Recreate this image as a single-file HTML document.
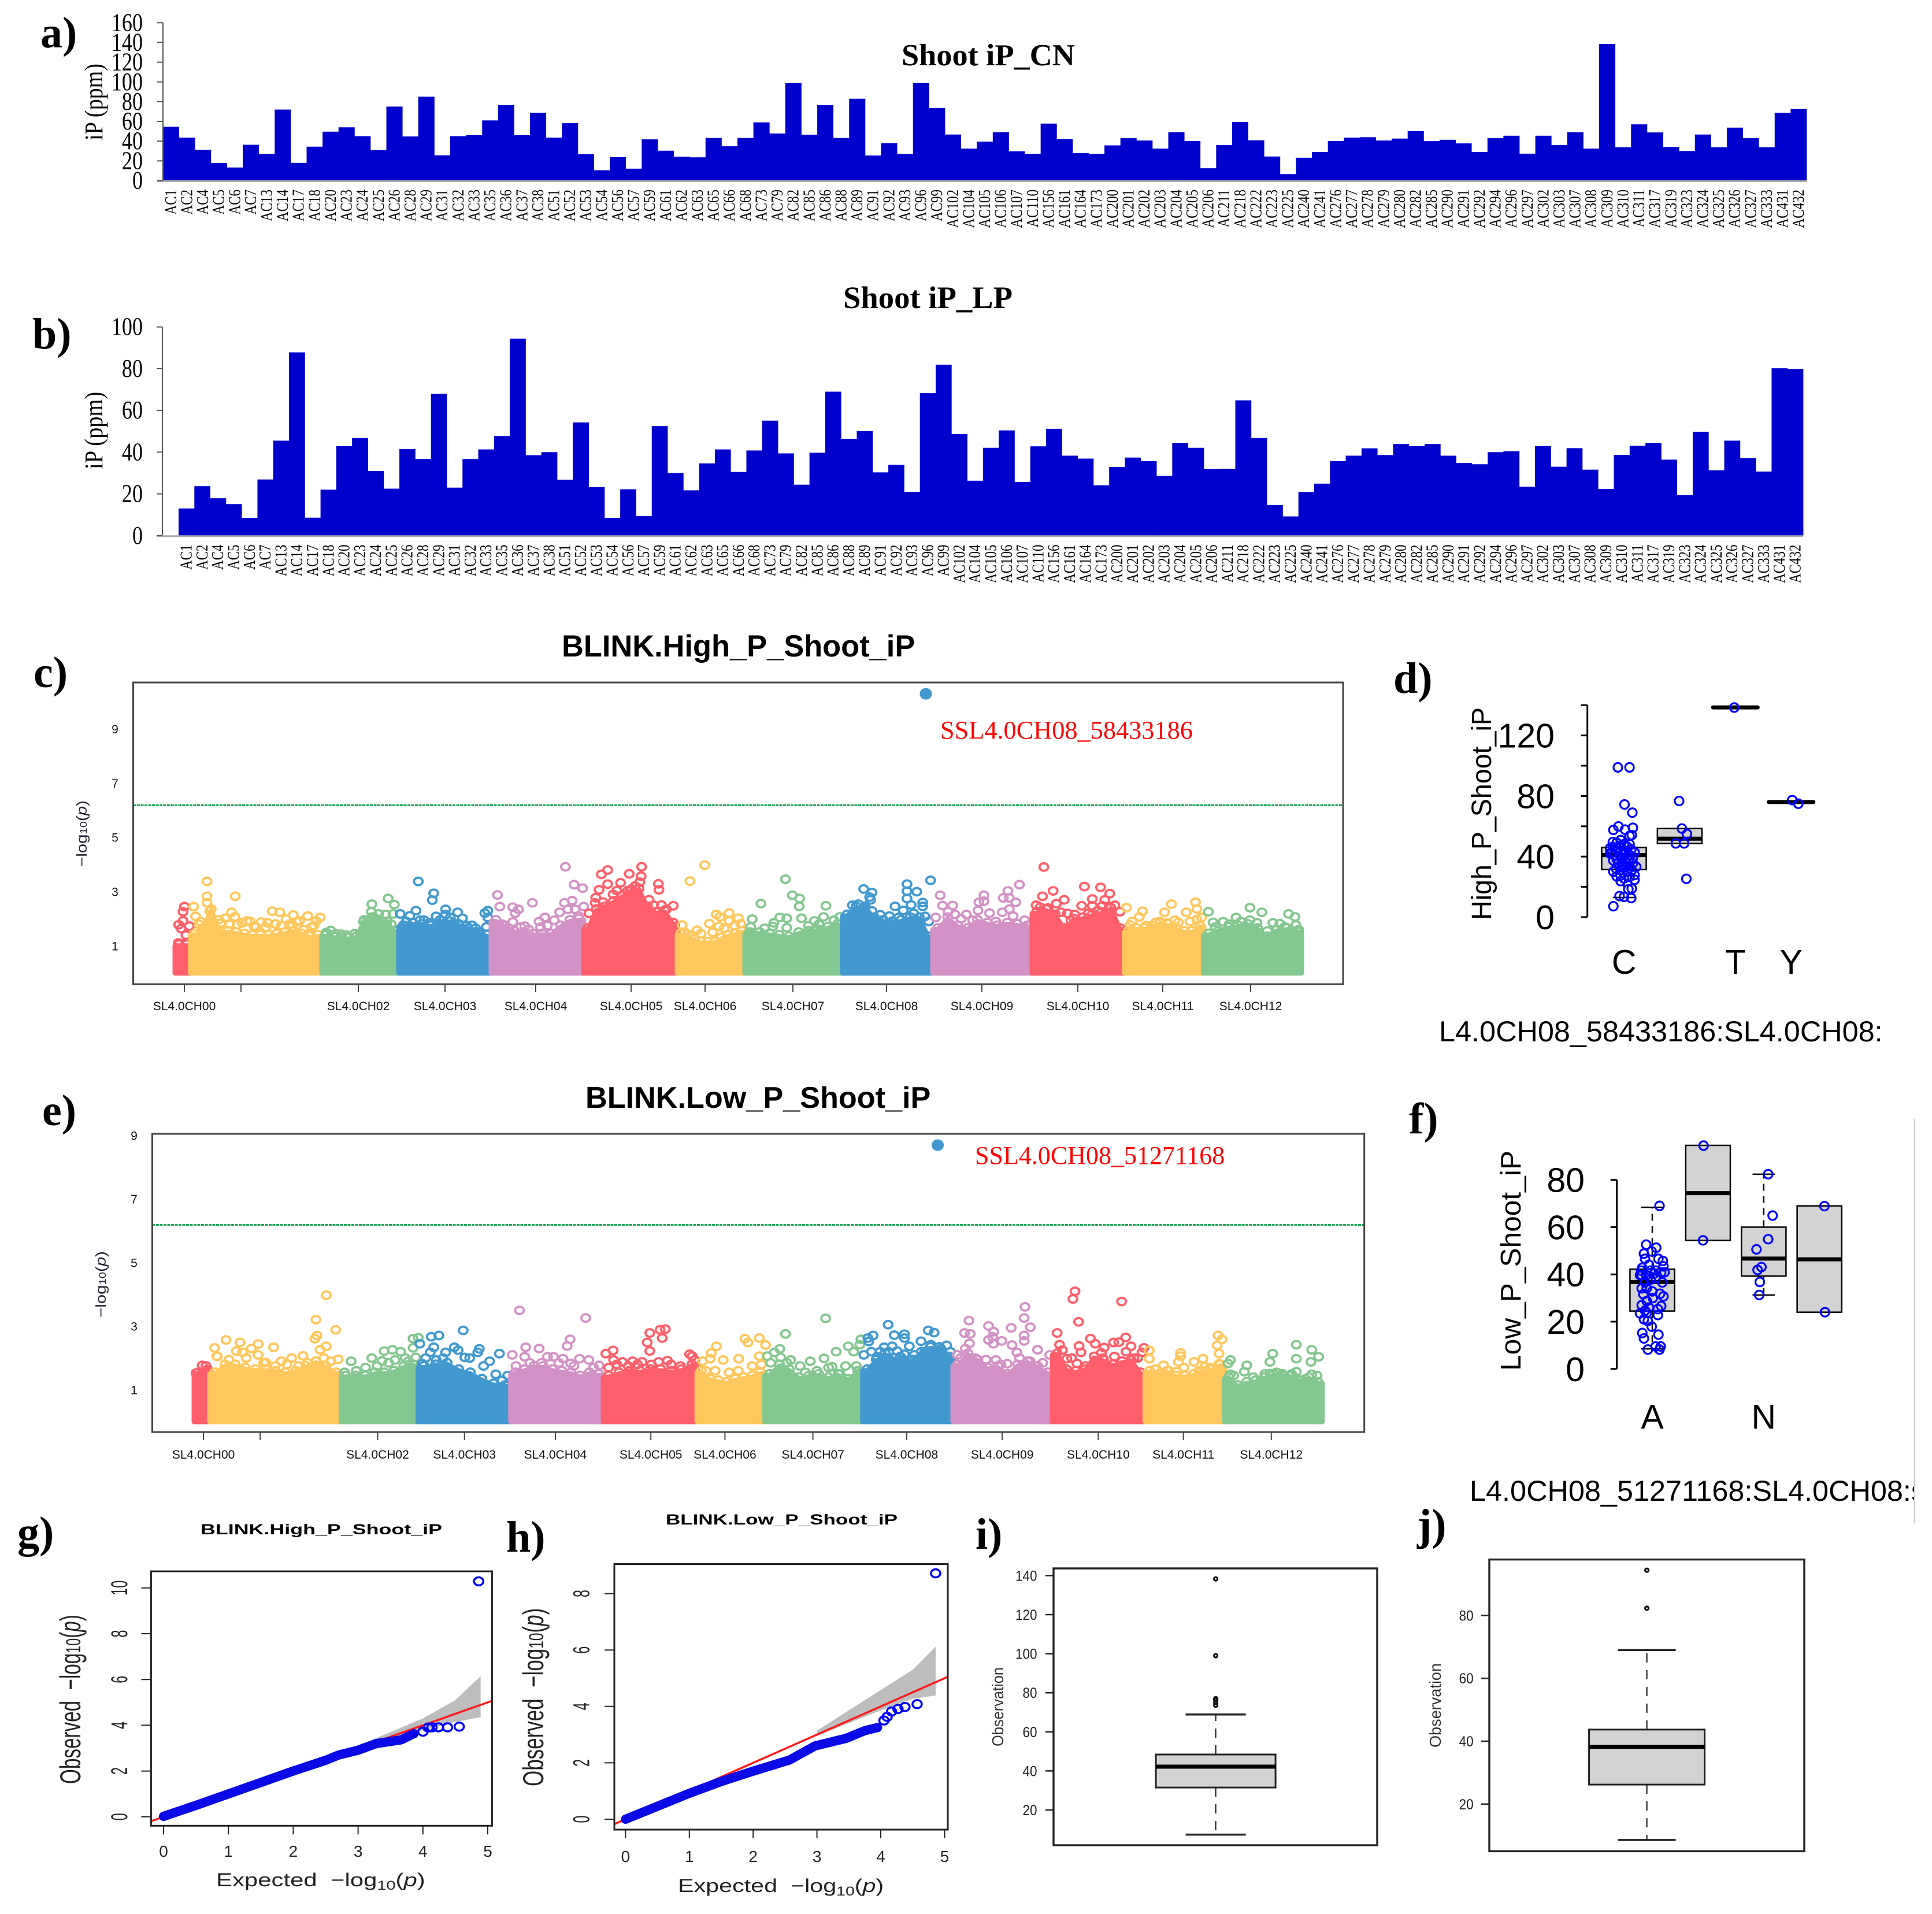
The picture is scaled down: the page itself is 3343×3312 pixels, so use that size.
<!DOCTYPE html>
<html lang="en">
<head>
<meta charset="utf-8">
<title>Shoot iP GWAS figure</title>
<style>
html,body{margin:0;padding:0;background:#fff;width:3343px;height:3312px;overflow:hidden}
svg{display:block}
.serif{font-family:"Liberation Serif",serif}
.sans{font-family:"Liberation Sans",sans-serif}
</style>
</head>
<body>
<svg id="fig" xmlns="http://www.w3.org/2000/svg" width="3343" height="3312" viewBox="0 0 3343 3312">
<defs>
<clipPath id="clip-g"><rect x="261" y="2719" width="590" height="440"/></clipPath>
<clipPath id="clip-h"><rect x="1063" y="2706" width="577" height="460"/></clipPath>
<clipPath id="clip-f"><rect x="2400" y="2500" width="912" height="140"/></clipPath>
</defs>

<g class="serif" font-weight="bold" font-size="76" fill="#000">
<text x="70" y="82">a)</text>
<text x="56" y="603">b)</text>
<text x="58" y="1189">c)</text>
<text x="2411" y="1199">d)</text>
<text x="73" y="1947">e)</text>
<text x="2438" y="1961">f)</text>
<text x="30" y="2677">g)</text>
<text x="876" y="2685">h)</text>
<text x="1688" y="2680">i)</text>
<text x="2452" y="2664">j)</text>
</g>

<text class="serif" font-weight="bold" x="1560" y="113" font-size="53.4" textLength="300" lengthAdjust="spacingAndGlyphs">Shoot iP_CN</text>
<text class="serif" font-weight="bold" x="1459" y="533" font-size="54" textLength="293" lengthAdjust="spacingAndGlyphs">Shoot iP_LP</text>
<text class="serif" font-size="44" textLength="133" lengthAdjust="spacingAndGlyphs" transform="translate(177,243) rotate(-90)">iP (ppm)</text>
<text class="serif" font-size="44" textLength="134" lengthAdjust="spacingAndGlyphs" transform="translate(177,812) rotate(-90)">iP (ppm)</text>
<g id="panel-a"></g>
<g id="panel-b"></g>

<text class="sans" font-weight="bold" x="972" y="1136" font-size="52.4">BLINK.High_P_Shoot_iP</text>
<g id="panel-c"></g>
<text class="sans" font-size="25" fill="#223" transform="translate(150,1500) rotate(-90) scale(1.18,1)">−log<tspan font-size="17">10</tspan>(<tspan font-style="italic">p</tspan>)</text>
<text class="serif" x="1627" y="1278" font-size="44.3" fill="#ff0000">SSL4.0CH08_58433186</text>

<text class="sans" font-weight="bold" x="1013" y="1917" font-size="52.2">BLINK.Low_P_Shoot_iP</text>
<g id="panel-e"></g>
<text class="sans" font-size="25" fill="#223" transform="translate(183,2280) rotate(-90) scale(1.18,1)">−log<tspan font-size="17">10</tspan>(<tspan font-style="italic">p</tspan>)</text>
<text class="serif" x="1687" y="2014" font-size="44" fill="#ff0000">SSL4.0CH08_51271168</text>

<g id="panel-d"></g>
<text class="sans" font-size="48" textLength="368" lengthAdjust="spacingAndGlyphs" transform="translate(2580,1592) rotate(-90)">High_P_Shoot_iP</text>
<text class="sans" x="2490" y="1802" font-size="50.4">L4.0CH08_58433186:SL4.0CH08:</text>

<g id="panel-f"></g>
<text class="sans" font-size="49" textLength="381" lengthAdjust="spacingAndGlyphs" transform="translate(2631,2372) rotate(-90)">Low_P_Shoot_iP</text>
<g clip-path="url(#clip-f)"><text class="sans" x="2543" y="2597" font-size="50.4">L4.0CH08_51271168:SL4.0CH08:s</text></g>
<line x1="3313" y1="1936" x2="3313" y2="2635" stroke="#cccccc" stroke-width="2"/>

<text class="sans" font-weight="bold" x="347" y="2655" font-size="25" textLength="418" lengthAdjust="spacingAndGlyphs">BLINK.High_P_Shoot_iP</text>
<g id="panel-g"></g>
<text class="sans" font-size="50" fill="#222" transform="translate(139,3087) rotate(-90) scale(.665,1)">Observed&#160;&#160;−log<tspan font-size="35">10</tspan>(<tspan font-style="italic">p</tspan>)</text>
<text class="sans" font-size="32" fill="#222" transform="translate(374,3264) scale(1.31,1)">Expected&#160;&#160;−log<tspan font-size="22" dy="6">10</tspan><tspan dy="-6">(</tspan><tspan font-style="italic">p</tspan>)</text>

<text class="sans" font-weight="bold" x="1152" y="2638" font-size="25" textLength="401" lengthAdjust="spacingAndGlyphs">BLINK.Low_P_Shoot_iP</text>
<g id="panel-h"></g>
<text class="sans" font-size="50" fill="#222" transform="translate(940,3091) rotate(-90) scale(.7,1)">Observed&#160;&#160;−log<tspan font-size="35">10</tspan>(<tspan font-style="italic">p</tspan>)</text>
<text class="sans" font-size="32" fill="#222" transform="translate(1173,3274) scale(1.29,1)">Expected&#160;&#160;−log<tspan font-size="22" dy="6">10</tspan><tspan dy="-6">(</tspan><tspan font-style="italic">p</tspan>)</text>

<g id="panel-i"></g>
<text class="sans" font-size="28" fill="#333" textLength="137" lengthAdjust="spacingAndGlyphs" transform="translate(1736,3022) rotate(-90)">Observation</text>
<g id="panel-j"></g>
<text class="sans" font-size="28" fill="#333" textLength="146" lengthAdjust="spacingAndGlyphs" transform="translate(2493,3024) rotate(-90)">Observation</text>
</svg>

<script>
/* ---------- bar chart data ---------- */
const accessions = ['AC1','AC2','AC4','AC5','AC6','AC7','AC13','AC14','AC17','AC18','AC20','AC23','AC24','AC25','AC26','AC28','AC29','AC31','AC32','AC33','AC35','AC36','AC37','AC38','AC51','AC52','AC53','AC54','AC56','AC57','AC59','AC61','AC62','AC63','AC65','AC66','AC68','AC73','AC79','AC82','AC85','AC86','AC88','AC89','AC91','AC92','AC93','AC96','AC99','AC102','AC104','AC105','AC106','AC107','AC110','AC156','AC161','AC164','AC173','AC200','AC201','AC202','AC203','AC204','AC205','AC206','AC211','AC218','AC222','AC223','AC225','AC240','AC241','AC276','AC277','AC278','AC279','AC280','AC282','AC285','AC290','AC291','AC292','AC294','AC296','AC297','AC302','AC303','AC307','AC308','AC309','AC310','AC311','AC317','AC319','AC323','AC324','AC325','AC326','AC327','AC333','AC431','AC432'];
const shootCN = [54.5,43.5,31.2,17.8,13.3,36.3,27.1,72,18,34.4,
49.6,54,45,30.9,75,44.7,85,25.6,45,46,
61,76.4,46,68.8,43.5,58.2,26.8,10.5,23.8,12.1,
41.8,30.3,24.2,23.6,43.2,34.8,43.2,59,47.7,98.8,
46.5,76.4,43.2,83,25.4,37.9,27.1,98.8,73.6,46.7,
32.4,39.5,49,29.7,27.1,57.8,42,27.9,27.1,35.7,
43,40.6,32.4,49,40.2,12.5,36,59.4,40.8,24.4,
6.6,23.2,29,40.2,43.5,44,40.6,42.6,50.2,40,
41.4,37.7,29,43,45.5,27.3,45.5,36,49,32.4,
138.5,33.8,57,48.8,34,30,46.7,33.8,53.7,43,33.8,68.8,72.5];
const shootLP = [13,23.7,17.9,15.1,8.5,26.9,45.5,87.8,8.6,22,
42.9,46.8,31,22.5,41.5,36.7,67.9,23,36.7,41.3,
47.7,94.4,38.5,40,26.8,54.2,23.2,8.5,22.2,9.4,
52.5,30,21.7,34.6,41.3,30.5,40.8,55.1,39.4,24.4,
39.7,69,46.3,50.1,30.3,33.9,21,68.3,81.9,48.7,
26.3,42.1,50.4,25.7,42.8,51.2,38.3,36.9,24.1,32.9,
37.4,35.7,28.6,44.3,42.1,31.9,32,64.8,46.8,14.6,
9.2,20.9,24.9,35.7,38.3,41.8,38.6,43.9,42.9,43.9,
38.3,34.8,34.2,40,40.4,23.4,42.9,33,41.9,31.6,
22.4,38.7,43,44.3,36.4,19.4,49.7,31.3,45.5,37.1,30.7,80.2,79.8];
const aTicks = [0,20,40,60,80,100,120,140,160];
const bTicks = [0,20,40,60,80,100];

/* ---------- manhattan data: genome position (Mb), -log10(p) ---------- */
const chrLabels = ['SL4.0CH00','','SL4.0CH02','SL4.0CH03','SL4.0CH04','SL4.0CH05','SL4.0CH06','SL4.0CH07','SL4.0CH08','SL4.0CH09','SL4.0CH10','SL4.0CH11','SL4.0CH12'];
const chrLengths = [13.5,113.5,66.5,80,80,81,58.5,84.5,78,86,80,68.5,84.5];
const chrTicks = [8,57,158.5,233.5,312,394.5,458.5,534.5,615.5,698,781,854.5,930.5];
const manhattanTicks = [1,3,5,7,9];
const significanceLine = 6.19;

const cEnvelope = [
[1,1],
[1.4,1.6,2.3,1.5,1.5,1.45,1.4,1.35,1.35,1.35,1.4,1.45,1.5,1.4,1.3,1.35],
[1.35,1.3,1.25,1.25,1.3,1.9,2,1.9,1.85,1.5],
[1.7,1.8,1.75,1.7,1.9,1.85,1.75,1.6,1.45,1.35],
[1.9,1.7,1.5,1.45,1.4,1.4,1.4,1.7,1.9,1.95],
[1.6,2.3,2.4,2.6,2.8,3,3.05,2.4,2.2,2.25,1.8],
[1.4,1.35,1.2,1.1,1.1,1.1,1.25,1.35,1.4,1.5],
[1.45,1.45,1.4,1.35,1.3,1.45,1.5,1.55,1.65,1.75],
[2.1,2.4,2.4,2,1.9,1.85,1.9,2,2,1.3],
[1.6,2,1.7,1.6,1.9,1.8,1.7,1.8,1.75,1.7],
[2.2,2.3,2.1,1.6,1.95,2,2.1,2.2,2.35,1.6],
[1.5,1.6,1.6,1.7,1.8,1.75,1.6,1.5,1.5,1.7],
[1.4,1.5,1.65,1.7,1.75,1.6,1.3,1.55,1.6,1.5]
];
const cHits = [
[[8.1,2.45],[6.9,2.26],[3.1,1.78],[6.9,1.92],[12.3,1.73],[5.2,1.64],[9.4,1.4],[2.7,1.11],[9.4,1.11]],
[[27.6,3.38],[27.6,2.83],[27.6,2.59],[52,2.83],[16,2.45],[17.7,2.09],[20.6,1.8],[30,2.29],[48.8,2.24],[84,2.28],[90.6,2.24],[102.2,2.14],[114.7,2.1],[125.5,2.05],[37.6,1.97],[43.4,2.02],[51.7,2.07],[62,1.92],[74.5,1.88],[86.9,1.81],[96,1.99],[107.6,1.92],[122,1.92],[118,1.69],[53.7,1.78],[68.2,1.73],[78.6,1.69],[101.4,1.73],[115.9,1.45],[22,1.9],[33,1.75],[40,1.85],[47,1.8],[58,1.85],[65,1.9],[70,1.7],[80,1.85],[92,1.75],[99,1.8],[105,1.9],[111,1.6],[120,1.75]],
[[184.3,2.75],[189.7,2.52],[170.2,2.54],[188.5,2.18],[182.3,2.16],[176,2.18],[169.8,2.26],[134.6,1.57],[143.7,1.43],[155.3,1.45],[131,1.5],[139,1.45],[148,1.4],[163,1.9],[172,2.05],[180,1.9],[187,1.8]],
[[210.4,3.38],[223.7,2.94],[222.5,2.69],[194.7,2.18],[208.4,2.3],[203,2.11],[215.4,1.95],[234,2.35],[244.4,2.24],[234,2.16],[248.6,2.02],[270.5,2.3],[268,2.21],[270.5,2.05],[225.8,2.09],[256.9,1.76],[269.3,1.7],[198.8,1.73],[200,1.9],[212,1.95],[220,1.85],[229,1.95],[238,2.05],[241,1.85],[252,1.75],[260,1.65],[264,1.5]],
[[337.7,3.92],[345.2,3.26],[352.6,3.13],[278.9,2.88],[309.1,2.59],[280.9,2.45],[292.1,2.43],[297.1,2.35],[294.2,2.21],[319.9,2.05],[314.9,1.9],[336.9,2.59],[343.5,2.67],[353.5,2.45],[332.7,2.24],[339.8,2.35],[346,2.35],[292.1,1.88],[302.5,1.73],[316.2,1.69],[283,1.8],[289,1.65],[299,1.7],[306,1.6],[322,1.75],[328,1.95],[349,2.1]],
[[374.2,3.8],[368.8,3.64],[403.6,3.92],[392.9,3.66],[403.2,3.57],[402,3.35],[385.4,3.33],[374.2,3.28],[418.1,3.29],[418.6,3.07],[366.8,3.07],[397.9,3.21],[382.1,3.04],[391.6,3.04],[363.9,2.78],[363.4,2.59],[420.7,2.51],[431,2.48],[370.1,2.62],[358,2.2],[379,2.9],[395,3.1],[410,2.7],[414,2.5],[425,2.35]],
[[458.2,3.98],[445.4,3.39],[462.2,1.82],[468.2,2.16],[471.3,2.07],[479.3,2.21],[487.3,2.02],[470.5,1.72],[438.6,1.77],[451.4,1.58],[489.3,1.82],[479.3,1.92],[441,1.5],[447,1.4],[455,1.45],[465,1.5],[475,1.65],[484,1.75]],
[[528,3.46],[534,2.87],[540.3,2.75],[540,2.46],[506.8,2.56],[563,2.48],[499.3,1.99],[523.2,2.05],[529.2,2.02],[541.9,2.02],[561,2.07],[575,2.07],[517.2,1.72],[529.2,1.67],[553.1,1.92],[498,1.7],[510,1.65],[518,1.85],[548,1.75],[557,1.8],[570,1.95]],
[[653.6,3.42],[633.2,3.28],[595.7,3.1],[602.9,2.97],[600.9,2.8],[601.7,2.7],[633.2,3.02],[641.6,3],[633.2,2.75],[646.8,2.6],[646.8,2.46],[622.9,2.46],[636.8,2.51],[602.9,2.29],[630,2.31],[648.8,2.09],[591,2.54],[586,2.5],[596,2.4],[610,2.15],[618,2.1],[626,2.05],[639,2.2],[652,1.9]],
[[730.5,3.26],[661.9,2.87],[699.8,2.87],[720.5,3.03],[716.5,2.77],[721.7,2.77],[727.3,2.61],[695.4,2.61],[663.9,2.49],[672.7,2.49],[699.8,2.65],[694.6,2.31],[684.6,2.16],[704.6,2.21],[721.7,2.36],[715.7,2.24],[674.7,2.16],[668.7,2.26],[658,2.05],[680,2],[690,1.95],[710,1.9],[725,2.1],[735,1.95]],
[[751.6,3.91],[759.6,3.03],[750.4,2.83],[769.2,2.7],[762.4,2.56],[748.4,2.43],[786.7,3.19],[800.7,3.16],[808.6,2.93],[793.5,2.73],[804.3,2.7],[784.3,2.48],[793.5,2.48],[802.3,2.48],[808.2,2.46],[766.4,2.24],[778.3,2.16],[817.4,2.26],[758.4,2.18],[745,2.5],[755,2.4],[772,2.2],[775,1.95],[790,2.2],[798,2.3],[813,2.5]],
[[823,2.41],[837,2.28],[862,2.54],[856,2.24],[874.8,2.24],[882.8,2.61],[884,2.36],[884,1.97],[848.5,1.87],[858,1.85],[868,1.87],[826.2,1.77],[834.2,2.07],[828,1.9],[840,1.75],[852,1.9],[865,1.95],[878,1.9],[888,2.05]],
[[894,2.26],[929.9,2.41],[940.2,2.24],[963.3,2.18],[968.9,2.07],[917.9,2.05],[898,1.87],[906.8,1.89],[929.9,1.95],[949.8,1.85],[969.7,1.77],[955.8,1.82],[900,1.7],[912,1.8],[922,1.9],[936,1.85],[945,1.55],[960,1.7],[972,1.6]]
];
const cTopSnp = [649.5,10.3];

const eEnvelope = [
[1.5,1.7],
[1.5,1.75,1.75,1.65,1.6,1.6,1.55,1.5,1.55,1.7,1.85,1.7,1.5],
[1.4,1.4,1.4,1.5,1.5,1.55,1.7,1.75],
[1.7,1.75,1.8,1.6,1.5,1.3,1.15,1.1],
[1.5,1.6,1.7,1.7,1.6,1.55,1.5,1.4,1.5,1.45],
[1.4,1.5,1.55,1.55,1.6,1.6,1.55,1.6,1.75],
[1.55,1.3,1.25,1.2,1.3,1.35,1.4,1.5],
[1.45,1.75,1.6,1.35,1.4,1.45,1.35,1.45,1.3,1.55],
[1.6,1.9,2.1,1.95,1.9,1.9,2.15,2.3,2.3,2],
[1.75,2.1,1.9,1.65,1.7,1.45,1.75,1.85,1.7,1.5],
[2.1,1.6,1.55,1.6,2,1.9,1.75,1.85,1.9,1.5],
[1.55,1.45,1.55,1.4,1.4,1.45,1.55,1.6,1.75],
[1.35,1.1,1.2,1.25,1.35,1.45,1.45,1.4,1.25,1.35,1.2]
];
const eHits = [
[[7,1.77],[1.6,1.53],[11.9,1.61]],
[[114.1,3.98],[105.2,3.21],[122.2,2.89],[106.1,2.71],[104.3,2.61],[114.1,2.37],[108.8,2.26],[27.5,2.57],[39.6,2.49],[55.2,2.44],[68.6,2.34],[17.7,2.32],[49.4,2.3],[36.4,2.22],[41.8,2.18],[19.5,2.06],[55.2,2.1],[94,2.07],[84.2,2],[124.4,1.96],[75.3,1.9],[61.9,1.86],[20,2.05],[30,1.95],[45,2],[60,1.85],[70,1.75],[80,1.8],[90,1.75],[98,1.85],[112,2],[118,1.9]],
[[189.1,2.61],[193.6,2.64],[164.1,2.22],[171.3,2.26],[178.4,2.2],[189.1,2.32],[153.4,2],[135.6,1.9],[162.3,1.91],[173.5,1.94],[191.4,2.02],[182.4,2],[130,1.55],[140,1.6],[148,1.7],[158,1.75],[168,1.85],[185,1.9]],
[[232.4,2.87],[204.8,2.67],[211.4,2.71],[194.9,2.45],[224.8,2.34],[246.3,2.29],[207,2.34],[263.7,2.14],[203.9,2.18],[217.2,2.18],[245,2.18],[233.8,2.02],[255.2,1.9],[197.1,1.82],[209.2,1.94],[270.8,1.45],[260.5,1.49],[200,2],[215,2],[228,2.25],[238,2],[250,1.75],[266,1.3],[275,1.25]],
[[281,3.5],[338.2,3.26],[324.8,2.59],[322.2,2.38],[286.4,2.34],[298,2.3],[274.8,2.1],[285.5,2.04],[305.2,2.04],[310.5,2.04],[332.9,1.98],[340.9,1.94],[318.6,1.98],[325.3,1.83],[349.8,1.77],[278,1.75],[290,1.85],[300,1.85],[315,1.85],[328,1.75],[345,1.7]],
[[407,2.91],[402.5,2.89],[393.6,2.79],[404.3,2.63],[391.4,2.49],[393.6,2.22],[361.9,2.24],[355.6,2.14],[428,2.12],[430.2,2.06],[362.3,1.94],[369.9,1.88],[378.8,1.9],[386.9,1.88],[401.2,1.88],[408.8,1.92],[432.4,1.94],[358,1.7],[365,1.8],[375,1.75],[383,1.8],[395,1.8],[412,1.8],[420,1.75]],
[[475.7,2.61],[488.2,2.63],[478.4,2.49],[493.6,2.41],[451.2,2.37],[446.7,2.16],[470.4,1.98],[457,1.94],[488.2,2.06],[445.8,1.98],[439.1,1.9],[442,1.6],[450,1.6],[462,1.55],[470,1.6],[482,1.75],[490,1.8]],
[[545.5,3.25],[510.8,2.76],[565.1,2.37],[575,2.42],[576,2.59],[554.6,2.2],[569.7,2.2],[544.1,1.99],[532.2,1.9],[515.3,1.94],[501.3,2.18],[505.9,2.29],[495,2.06],[506.6,2.02],[551.1,1.73],[562.7,1.75],[523.4,1.75],[498,1.85],[512,1.85],[528,1.55],[538,1.6],[548,1.7],[558,1.5],[572,1.75]],
[[599.5,3.05],[604.8,2.72],[613.6,2.75],[613.6,2.63],[586.5,2.71],[582,2.63],[582.7,2.52],[634.2,2.87],[639.2,2.8],[627.9,2.53],[603,2.37],[596,2.34],[617.8,2.37],[636.4,2.42],[592.5,2.2],[607.2,2.22],[613.6,2.12],[653.2,2.2],[645.1,2.29],[578.5,2.1],[585,2.2],[590,2.05],[600,2.2],[610,2.05],[622,2.1],[631,2.2],[650,2.4]],
[[669.3,3.18],[717.7,3.61],[717,3.26],[686.2,3.01],[705.8,2.95],[722.3,2.97],[665.5,2.79],[670.4,2.76],[690.7,2.83],[689.7,2.67],[717,2.71],[686.2,2.57],[697.7,2.54],[690.4,2.45],[717,2.54],[706.5,2.41],[659.2,2.1],[669.7,2.46],[666.2,2.3],[728.6,2.26],[710.7,2.18],[739.1,2.1],[692.5,1.94],[702.3,1.82],[662,2],[675,2],[684,1.95],[697,1.8],[713,2],[722,1.9],[733,1.85]],
[[760.9,4.1],[759.1,3.86],[801.2,3.78],[764,3.14],[745.5,2.79],[804.7,2.65],[774.2,2.61],[778.4,2.45],[794.2,2.49],[798.8,2.5],[747.6,2.42],[764.4,2.38],[766.1,2.18],[786.1,2.33],[809.3,2.37],[820.5,2.32],[753.9,1.98],[762.6,1.83],[783.7,2.16],[818.8,2.18],[811.8,2],[750,2.25],[758,2],[770,1.75],[785,2],[795,2.05],[805,2.2],[815,2]],
[[884.4,2.71],[887.9,2.59],[883.7,2.4],[825.1,2.24],[825.1,1.98],[852.1,2.16],[852.1,2.06],[850.3,1.88],[863.7,1.88],[871.4,1.98],[837.4,1.77],[885.4,2.14],[848.6,1.57],[873.1,1.73],[885.4,1.82],[830,1.65],[842,1.6],[855,1.7],[868,1.6],[878,1.7]],
[[952.1,2.42],[965.4,2.26],[971.4,2.04],[931.7,2.14],[929.3,1.88],[952.1,1.98],[964.7,1.88],[895.2,1.94],[893.1,1.83],[909.3,1.77],[907.2,1.57],[952.1,1.57],[895.2,1.49],[929.3,1.51],[941.6,1.45],[965.4,1.49],[898,1.45],[915,1.4],[925,1.5],[935,1.55],[948,1.5],[960,1.35],[970,1.45]]
];
const eTopSnp = [642.3,8.7];

/* ---------- genotype boxplots ---------- */
const dLabels = ['C','','T','Y'];
const dYTicks = [0,20,40,60,80,100,120,140];
const dYLabels = ['0','','40','','80','','120',''];
const dQ1 = [31.4,48.6,138.5,76];
const dQ3 = [46,58.5,138.5,76];
const dMed = [41,51.8,138.5,76];
const dLow = [13,48.6,138.5,76];
const dHigh = [46,58.5,138.5,76];
const dPoints = [
[[-.11,98.9],[.1,98.9],[.01,74.4],[.15,69],[-.1,59.9],[.16,59],[-.19,57.6],[.02,57.8],[.14,54.2],[.1,53.6],[-.06,50.9],[-.2,49.6],[0,48.2],[-.2,46.4],[.06,46.4],[-.13,45.5],[.13,44.6],[-.22,42.8],[-.06,43.7],[.19,42.8],[.03,41.9],[-.16,41],[.1,41],[-.25,41.9],[-.03,39.2],[-.19,37.4],[.16,39.2],[-.1,35.6],[.03,36.5],[.1,33.8],[.22,33.2],[-.14,31.9],[-.03,32.9],[.14,31],[-.19,30.1],[.05,30.1],[-.06,27.4],[.19,27.8],[-.13,26.9],[.1,26.5],[0,25.6],[-.06,23.8],[.19,24.7],[.08,18.4],[.14,18.8],[-.08,13.9],[0,13.4],[.13,12.6],[-.19,7.2],[0,43.7],[-.06,47.3],[.1,48.2],[-.13,38.3],[0,34.7],[.08,37.4],[-.25,45.5],[-.06,31],[.03,32.9],[.16,35.6],[-.13,49.1]],
[[-.01,76.7],[.04,58.5],[.13,54.9],[-.07,48.7],[.08,48.7],[.12,25.3]],
[[-.02,138.4]],
[[.02,77.3],[.13,74.9]]
];
const fLabels = ['A','','N',''];
const fYTicks = [0,20,40,60,80];
const fYLabels = ['0','20','40','60','80'];
const fQ1 = [24.5,54.4,39.3,24];
const fQ3 = [42.2,94.6,60,69];
const fMed = [36.8,74.4,46.7,46.4];
const fLow = [8.5,54.4,31.3,24];
const fHigh = [68.4,94.6,82.4,69];
const fPoints = [
[[.13,69],[-.11,52.6],[.07,51.3],[-.01,49.7],[-.15,48.8],[-.13,46.6],[.11,46.6],[.19,45.7],[.2,43.4],[-.06,44.1],[-.18,42.8],[-.2,41.6],[.16,40.9],[-.03,41.6],[-.19,39.7],[-.11,39.7],[.06,38.5],[-.03,37.8],[.18,36.6],[-.19,34.1],[-.1,34.1],[0,32.8],[-.16,31.6],[.14,31.8],[.2,30.7],[-.1,28.7],[.01,30],[-.19,27],[.16,26.6],[-.06,26],[-.22,23.5],[-.1,23.7],[.1,22.8],[-.15,21],[-.08,20.3],[-.01,17.9],[-.18,15.2],[.11,14.5],[-.15,12.9],[-.08,8.2],[.06,9.5],[.15,9.5],[.13,8.2],[.1,25.3],[-.13,24.7],[.03,40.3],[-.13,36.6],[-.22,39.7],[.22,40.9],[.06,41.6]],
[[-.08,94.5],[-.09,54.4]],
[[.08,82.4],[.16,64.9],[.08,54.9],[-.13,50.6],[-.04,43.1],[-.11,41.9],[-.07,36.8],[-.08,31.3]],
[[.09,68.9],[.1,24]]
];

/* ---------- QQ plots ---------- */
const qqXTicks = [0,1,2,3,4,5];
const gYTicks = [0,2,4,6,8,10];
const hYTicks = [0,2,4,6,8];
const gCurveExpected = [0,.5,1,1.5,2,2.5,2.7,3,3.28,3.66,3.86];
const gCurveObserved = [.02,.5,1,1.5,2,2.47,2.7,2.91,3.2,3.36,3.63];
const gTailExpected = [4,4.08,4.14,4.24,4.38,4.56,4.86];
const gTailObserved = [3.72,3.9,3.91,3.91,3.91,3.94,10.29];
const gBandExpected = [3.2,3.5,4,4.5,4.89];
const gBandUpper = [3.35,3.7,4.3,5.1,6.15];
const gBandLower = [3.15,3.4,3.78,4.15,4.35];
const hCurveExpected = [0,1,1.49,1.98,2.57,2.97,3.46,3.75,3.95];
const hCurveObserved = [0,.92,1.33,1.69,2.1,2.6,2.87,3.14,3.25];
const hTailExpected = [4.05,4.1,4.17,4.27,4.38,4.57,4.86];
const hTailObserved = [3.5,3.63,3.82,3.91,3.98,4.08,8.72];
const hBandExpected = [3,4,4.5,4.86];
const hBandUpper = [3.14,4.58,5.3,6.12];
const hBandLower = [2.95,3.86,4.27,4.39];

/* ---------- phenotype boxplots ---------- */
const iYTicks = [20,40,60,80,100,120,140];
const iBox = [31.5,42.2,48.4];
const iWhiskers = [7.4,68.9];
const iOutliers = [138.3,99,73.6,75,76.4,77];
const jYTicks = [20,40,60,80];
const jBox = [26.2,38.2,43.7];
const jWhiskers = [8.6,69];
const jOutliers = [94.4,82.3];

/* ---------- helpers ---------- */
const SVGNS = 'http://www.w3.org/2000/svg';
const SANS = '"Liberation Sans",sans-serif';
const SERIF = '"Liberation Serif",serif';
const $ = id => document.getElementById(id);
function shape(parent, tag, attrs) {
  const el = document.createElementNS(SVGNS, tag);
  for (const k in attrs) el.setAttribute(k, attrs[k]);
  parent.appendChild(el);
  return el;
}
function label(parent, str, family, size, transform, anchor, fill) {
  const el = shape(parent, 'text', {'font-family': family, 'font-size': size, transform: transform, 'text-anchor': anchor, fill: fill || '#000'});
  el.textContent = str;
  return el;
}
const linear = (d0, r0, d1, r1) => v => r0 + (v - d0) * (r1 - r0) / (d1 - d0);

/* ---------- bar charts ---------- */
function drawBars(id, values, ticks, left, right, y0Px, maxVal, maxPx, axisX, labelTop) {
  const g = $(id);
  const y = linear(0, y0Px, maxVal, maxPx);
  const w = (right - left) / values.length;
  values.forEach((v, i) => {
    const el = shape(g, 'rect', {x: left + i * w, y: y(v), width: w + .4, height: y0Px - y(v), fill: '#0000CD'});
    
    
    const t = label(g, accessions[i], SERIF, 28, 'translate(' + (left + (i + .5) * w + 9) + ',' + labelTop + ') rotate(-90) scale(.82,1)', 'end');
    
    
  });
  const axis = shape(g, 'line', {x1: axisX, x2: axisX, y1: y(ticks[ticks.length - 1]), y2: y0Px, stroke: '#555', 'stroke-width': 2});
  
  
  const base = shape(g, 'line', {x1: axisX - 10, x2: right, y1: y0Px + 1, y2: y0Px + 1, stroke: '#aaa', 'stroke-width': 3});
  
  
  ticks.forEach(v => {
    const tk = shape(g, 'line', {x1: axisX - 10, x2: axisX, y1: y(v), y2: y(v), stroke: '#555', 'stroke-width': 2});
    
    
    const t = label(g, String(v), SERIF, 44, 'translate(247,' + (y(v) + 14) + ') scale(.82,1)', 'end');
    
    
  });
}
drawBars('panel-a', shootCN, aTicks, 282, 3126, 312.5, 160, 39.3, 282, 328);
drawBars('panel-b', shootLP, bTicks, 309, 3120, 926.8, 100, 565.7, 281, 942.5);

/* ---------- manhattan plots ---------- */
const palette = ['#FF5F6B','#FFC75C','#84C790','#4299D0','#D392C5'];
function drawManhattan(id, envelope, hits, top, cfg) {
  const g = $(id);
  const x = p => cfg.x0 + cfg.k * p;
  const y = linear(0, cfg.y0, 1, cfg.y1);
  let start = 0;
  chrLengths.forEach((len, c) => {
    const col = palette[c % 5];
    const vals = envelope[c];
    const pts = [x(start) + ',' + y(0), x(start) + ',' + y(vals[0])];
    vals.forEach((v, j) => pts.push(x(start + (j + .5) / vals.length * len) + ',' + y(v)));
    pts.push(x(start + len) + ',' + y(vals[vals.length - 1]), x(start + len) + ',' + y(0));
    const area = shape(g, 'polygon', {points: pts.join(' '), fill: col, stroke: col, 'stroke-width': 9, 'stroke-linejoin': 'round'});
    
    
    vals.forEach((v, j) => {
      const r = shape(g, 'ellipse', {cx: x(start + (j + .5) / vals.length * len), cy: y(v) - 3, rx: 7.5, ry: 6.5, fill: 'none', stroke: col, 'stroke-width': 3.8});
      
      
    });
    hits[c].forEach(h => {
      const r = shape(g, 'ellipse', {cx: x(h[0]), cy: y(h[1]), rx: 7.5, ry: 6.5, fill: 'none', stroke: col, 'stroke-width': 3.8});
      
      
    });
    start += len;
  });
  const peak = shape(g, 'ellipse', {cx: x(top[0]), cy: y(top[1]), rx: 10.5, ry: 10, fill: '#4299D0'});
  
  
  const thr = shape(g, 'line', {x1: cfg.left, x2: cfg.right, y1: y(significanceLine), y2: y(significanceLine), stroke: '#1FA55A', 'stroke-width': 3.2, 'stroke-dasharray': '5 1.5'});
  
  
  const frame = shape(g, 'rect', {x: cfg.left, y: cfg.top, width: cfg.right - cfg.left, height: cfg.bottom - cfg.top, fill: 'none', stroke: '#444', 'stroke-width': 3});
  
  
  chrTicks.forEach((p, c) => {
    const tk = shape(g, 'line', {x1: x(p), x2: x(p), y1: cfg.bottom, y2: cfg.bottom + 14, stroke: '#444', 'stroke-width': 2});
    
    
    if (chrLabels[c]) {
      const t = label(g, chrLabels[c], SANS, 21, 'translate(' + x(p) + ',' + cfg.labelY + ')', 'middle', '#111');
      
      
    }
  });
  manhattanTicks.forEach(v => {
    const t = label(g, String(v), SANS, 21, 'translate(' + cfg.tickX + ',' + (y(v) + 7.5) + ')', 'middle', '#111');
    
    
  });
}
drawManhattan('panel-c', cEnvelope, cHits, cTopSnp, {x0: 303, k: 2, y0: 1683.7, y1: 1636.8, left: 230.5, right: 2324, top: 1181, bottom: 1703, labelY: 1748, tickX: 199});
drawManhattan('panel-e', eEnvelope, eHits, eTopSnp, {x0: 336, k: 2.003, y0: 2460, y1: 2405, left: 263.5, right: 2360.7, top: 1962, bottom: 2478, labelY: 2524, tickX: 232});

/* ---------- genotype boxplots ---------- */
function drawGenotype(id, cats, yTicks, yLabels, q1, q3, med, low, high, points, cfg) {
  const g = $(id);
  const x = i => cfg.x0 + cfg.step * i;
  const y = linear(0, cfg.y0, 100, cfg.y0 - 100 * cfg.k);
  const hw = cfg.step * .4, cw = cfg.step * .2;
  med.forEach((m, i) => {
    const hasBox = q3[i] > q1[i];
    if (high[i] > q3[i]) {
      const w = shape(g, 'line', {x1: x(i), x2: x(i), y1: y(q3[i]), y2: y(high[i]), stroke: '#000', 'stroke-width': 2.5, 'stroke-dasharray': '12 9'});
      
      
      const c = shape(g, 'line', {x1: x(i) - cw, x2: x(i) + cw, y1: y(high[i]), y2: y(high[i]), stroke: '#000', 'stroke-width': 2.5});
      
      
    }
    if (low[i] < q1[i]) {
      const w = shape(g, 'line', {x1: x(i), x2: x(i), y1: y(q1[i]), y2: y(low[i]), stroke: '#000', 'stroke-width': 2.5, 'stroke-dasharray': '12 9'});
      
      
      const c = shape(g, 'line', {x1: x(i) - cw, x2: x(i) + cw, y1: y(low[i]), y2: y(low[i]), stroke: '#000', 'stroke-width': 2.5});
      
      
    }
    if (hasBox) {
      const b = shape(g, 'rect', {x: x(i) - hw, y: y(q3[i]), width: hw * 2, height: y(q1[i]) - y(q3[i]), fill: '#d3d3d3', stroke: '#000', 'stroke-width': 2.5});
      
      
    }
    const ml = shape(g, 'line', {x1: x(i) - hw, x2: x(i) + hw, y1: y(m), y2: y(m), stroke: '#000', 'stroke-width': 7, 'stroke-linecap': hasBox ? 'butt' : 'round'});
    
    
  });
  points.forEach((list, i) => list.forEach(p => {
    const r = shape(g, 'circle', {cx: x(i + p[0]), cy: y(p[1]), r: 7.5, fill: 'none', stroke: '#0000ff', 'stroke-width': 3.2});
    
    
  }));
  const axis = shape(g, 'line', {x1: cfg.axisX, x2: cfg.axisX, y1: y(yTicks[0]), y2: y(yTicks[yTicks.length - 1]), stroke: '#000', 'stroke-width': 3});
  
  
  yTicks.forEach((v, i) => {
    const tk = shape(g, 'line', {x1: cfg.axisX - 11, x2: cfg.axisX, y1: y(v), y2: y(v), stroke: '#000', 'stroke-width': 3});
    
    
    if (yLabels[i]) {
      const t = label(g, yLabels[i], SANS, 59, 'translate(' + cfg.labelX + ',' + (y(v) + 21) + ')', 'end');
      
      
    }
  });
  cats.forEach((c, i) => {
    if (c) {
      const t = label(g, c, SANS, 59, 'translate(' + x(i) + ',' + cfg.catY + ')', 'middle');
      
      
    }
  });
}
drawGenotype('panel-d', dLabels, dYTicks, dYLabels, dQ1, dQ3, dMed, dLow, dHigh, dPoints, {x0: 2810, step: 96.4, y0: 1587, k: 2.62, axisX: 2746.7, labelX: 2690, catY: 1685});
drawGenotype('panel-f', fLabels, fYTicks, fYLabels, fQ1, fQ3, fMed, fLow, fHigh, fPoints, {x0: 2859, step: 96.4, y0: 2368.8, k: 4.089, axisX: 2797.7, labelX: 2742, catY: 2472});

/* ---------- QQ plots ---------- */
function drawQQ(id, curveE, curveO, tailE, tailO, bandE, bandU, bandL, yTicks, cfg) {
  const g = $(id);
  const x = linear(0, cfg.x0, 1, cfg.x1);
  const y = linear(0, cfg.y0, 1, cfg.y1);
  const poly = bandE.map((e, i) => x(e) + ',' + y(bandU[i])).concat(bandE.map((e, i) => x(e) + ',' + y(bandL[i])).reverse());
  const band = shape(g, 'polygon', {points: poly.join(' '), fill: '#bdbdbd'});
  
  
  const ref = shape(g, 'line', {x1: x(-.3), y1: y(-.3), x2: x(6), y2: y(6), stroke: '#ff1a1a', 'stroke-width': 3.5, 'clip-path': 'url(#' + cfg.clip + ')'});
  
  
  const curve = shape(g, 'polyline', {points: curveE.map((e, i) => x(e) + ',' + y(curveO[i])).join(' '), fill: 'none', stroke: '#0a0ae6', 'stroke-width': 16, 'stroke-linecap': 'round', 'stroke-linejoin': 'round'});
  
  
  tailE.forEach((e, i) => {
    const r = shape(g, 'ellipse', {cx: x(e), cy: y(tailO[i]), rx: 8, ry: 7, fill: 'none', stroke: '#0000ff', 'stroke-width': 3.5});
    
    
  });
  const frame = shape(g, 'rect', {x: cfg.left, y: cfg.top, width: cfg.right - cfg.left, height: cfg.bottom - cfg.top, fill: 'none', stroke: '#222', 'stroke-width': 3});
  
  
  qqXTicks.forEach(v => {
    const tk = shape(g, 'line', {x1: x(v), x2: x(v), y1: cfg.bottom, y2: cfg.bottom + 15, stroke: '#222', 'stroke-width': 2});
    
    
    const t = label(g, String(v), SANS, 28, 'translate(' + x(v) + ',' + cfg.xLabelY + ')', 'middle', '#222');
    
    
  });
  yTicks.forEach(v => {
    const tk = shape(g, 'line', {x1: cfg.left - 17, x2: cfg.left, y1: y(v), y2: y(v), stroke: '#222', 'stroke-width': 2});
    
    
    const t = label(g, String(v), SANS, 40, 'translate(' + cfg.yLabelX + ',' + y(v) + ') rotate(-90) scale(.58,1)', 'middle', '#222');
    
    
  });
}
drawQQ('panel-g', gCurveExpected, gCurveObserved, gTailExpected, gTailObserved, gBandExpected, gBandUpper, gBandLower, gYTicks, {x0: 283, x1: 395.2, y0: 3143.8, y1: 3104.2, left: 261.4, right: 851.4, top: 2719, bottom: 3159.3, xLabelY: 3213, yLabelX: 220, clip: 'clip-g'});
drawQQ('panel-h', hCurveExpected, hCurveObserved, hTailExpected, hTailObserved, hBandExpected, hBandUpper, hBandLower, hYTicks, {x0: 1082.4, x1: 1192.8, y0: 3148, y1: 3099.2, left: 1063, right: 1640, top: 2706.5, bottom: 3166, xLabelY: 3222, yLabelX: 1019.5, clip: 'clip-h'});

/* ---------- phenotype boxplots ---------- */
function drawPheno(id, ticks, box, whiskers, outliers, cfg) {
  const g = $(id);
  const y = linear(0, cfg.y0, 100, cfg.y0 - 100 * cfg.k);
  const up = shape(g, 'line', {x1: cfg.cx, x2: cfg.cx, y1: y(box[2]), y2: y(whiskers[1]), stroke: '#222', 'stroke-width': 2.2, 'stroke-dasharray': '16 13'});
  
  
  const dn = shape(g, 'line', {x1: cfg.cx, x2: cfg.cx, y1: y(box[0]), y2: y(whiskers[0]), stroke: '#222', 'stroke-width': 2.2, 'stroke-dasharray': '16 13'});
  
  
  whiskers.forEach(v => {
    const c = shape(g, 'line', {x1: cfg.cx - cfg.capW, x2: cfg.cx + cfg.capW, y1: y(v), y2: y(v), stroke: '#222', 'stroke-width': 3.5});
    
    
  });
  const b = shape(g, 'rect', {x: cfg.cx - cfg.boxW, y: y(box[2]), width: cfg.boxW * 2, height: y(box[0]) - y(box[2]), fill: '#d3d3d3', stroke: '#222', 'stroke-width': 3});
  
  
  const m = shape(g, 'line', {x1: cfg.cx - cfg.boxW, x2: cfg.cx + cfg.boxW, y1: y(box[1]), y2: y(box[1]), stroke: '#000', 'stroke-width': 7});
  
  
  outliers.forEach(v => {
    const o = shape(g, 'ellipse', {cx: cfg.cx, cy: y(v), rx: 3, ry: 3, fill: 'none', stroke: '#111', 'stroke-width': 3.2});
    
    
  });
  const frame = shape(g, 'rect', {x: cfg.left, y: cfg.top, width: cfg.right - cfg.left, height: cfg.bottom - cfg.top, fill: 'none', stroke: '#222', 'stroke-width': 3.4});
  
  
  ticks.forEach(v => {
    const tk = shape(g, 'line', {x1: cfg.left - 14, x2: cfg.left, y1: y(v), y2: y(v), stroke: '#222', 'stroke-width': 2.5});
    
    
    const t = label(g, String(v), SANS, 25, 'translate(' + cfg.labelX + ',' + (y(v) + 9) + ') scale(.9,1)', 'end', '#222');
    
    
  });
}
drawPheno('panel-i', iYTicks, iBox, iWhiskers, iOutliers, {y0: 3199.6, k: 3.38, cx: 2103.6, boxW: 103.5, capW: 52, left: 1823, right: 2383, top: 2714, bottom: 3193, labelX: 1794.5});
drawPheno('panel-j', jYTicks, jBox, jWhiskers, jOutliers, {y0: 3230.6, k: 5.44, cx: 2849.6, boxW: 100, capW: 50, left: 2577, right: 3122, top: 2698.6, bottom: 3203.4, labelX: 2549.6});
</script>
</body>
</html>
